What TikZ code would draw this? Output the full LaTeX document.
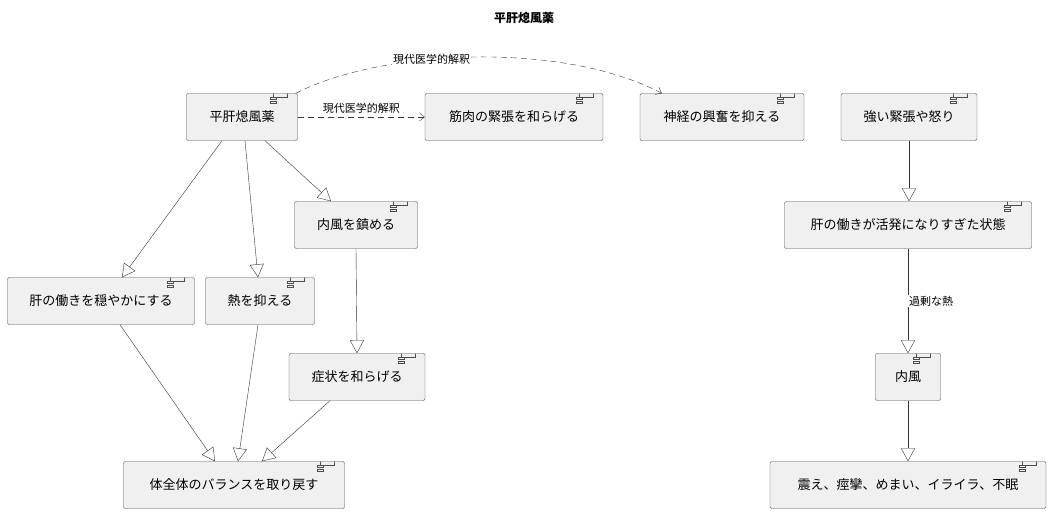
\documentclass[tikz,border=0pt]{standalone}
\usepackage{fontspec}
\setmainfont{Noto Sans CJK JP}
\usetikzlibrary{arrows.meta,positioning}

\begin{document}
\begin{tikzpicture}[
    x = 1pt, y = -1pt,
    font = \fontsize{13}{15}\selectfont,
    comp/.style = {draw = black!70, fill = black!6, rounded corners = 2pt,
        minimum height = 47pt, inner xsep = 14pt, anchor = center,
        path picture = {
          \draw[black!70, fill = black!6, sharp corners]
            ([xshift=-24pt,yshift=-4pt]path picture bounding box.north east) rectangle ++(14,-9);
          \draw[black!70, fill = black!6, sharp corners]
            ([xshift=-27pt,yshift=-6pt]path picture bounding box.north east) rectangle ++(6,-2)
            ([xshift=-27pt,yshift=-10pt]path picture bounding box.north east) rectangle ++(6,-2);
        }},
    gen/.style = {draw = black!80, -{Triangle[open, length=13pt, width=14pt]}},
    dep/.style = {draw = black!80, dashed, dash pattern = on 6pt off 4pt, -{Straight Barb[length=5pt, width=8pt]}},
    lbl/.style = {font = \fontsize{11}{13}\selectfont, fill = white, inner sep = 1pt}
    ]
    \useasboundingbox[fill = white] (0,0) rectangle (1052,512);
    \node[font = \bfseries\fontsize{12}{14}\selectfont] (title) at (524,18) {平肝熄風薬};

    % left group
    \node[comp, minimum width = 111pt] (herb) at (242,117) {平肝熄風薬};
    \node[comp, minimum width = 178pt] (muscle) at (514,117) {筋肉の緊張を和らげる};
    \node[comp, minimum width = 164pt] (nerve) at (722,117) {神経の興奮を抑える};
    \node[comp, minimum width = 123pt] (calm) at (356,225) {内風を鎮める};
    \node[comp, minimum width = 187pt] (liver) at (101,301) {肝の働きを穏やかにする};
    \node[comp, minimum width = 109pt] (heat) at (260,301) {熱を抑える};
    \node[comp, minimum width = 136pt] (relief) at (357,377) {症状を和らげる};
    \node[comp, minimum width = 221pt] (balance) at (234,485) {体全体のバランスを取り戻す};

    % right group
    \node[comp, minimum width = 136pt] (stress) at (909,117) {強い緊張や怒り};
    \node[comp, minimum width = 247pt] (active) at (908,225) {肝の働きが活発になりすぎた状態};
    \node[comp, minimum width = 65pt] (wind) at (908,377) {内風};
    \node[comp, minimum width = 276pt] (symptom) at (908,485) {震え、痙攣、めまい、イライラ、不眠};

    \draw[gen] ([xshift=-20pt]herb.south) -- ([xshift=21pt]liver.north);
    \draw[gen] ([xshift=3pt]herb.south) -- ([xshift=-2pt]heat.north);
    \draw[gen] ([xshift=23pt]herb.south) -- ([xshift=-25pt]calm.north);
    \draw[gen] (calm.south) -- (relief.north);
    \draw[gen] ([xshift=19pt]liver.south) -- ([xshift=-19pt]balance.north);
    \draw[gen] ([xshift=-2pt]heat.south) -- ([xshift=4pt]balance.north);
    \draw[gen] ([xshift=-27pt]relief.south) -- ([xshift=28pt]balance.north);

    \draw[dep] (herb.east) -- node[lbl, above = 2pt] {現代医学的解釈} (muscle.west);
    \draw[dep] ([xshift=-2pt]herb.north east) .. controls (380,50) and (560,40) .. ([xshift=22pt]nerve.north west)
        node[lbl, pos = 0.4] {現代医学的解釈};

    \draw[gen] (stress.south) -- (stress.south |- active.north);
    \draw[gen] (wind.north |- active.south) -- node[lbl, right = 0pt] {過剰な熱} (wind.north);
    \draw[gen] (wind.south) -- (symptom.north);
\end{tikzpicture}
\end{document}
